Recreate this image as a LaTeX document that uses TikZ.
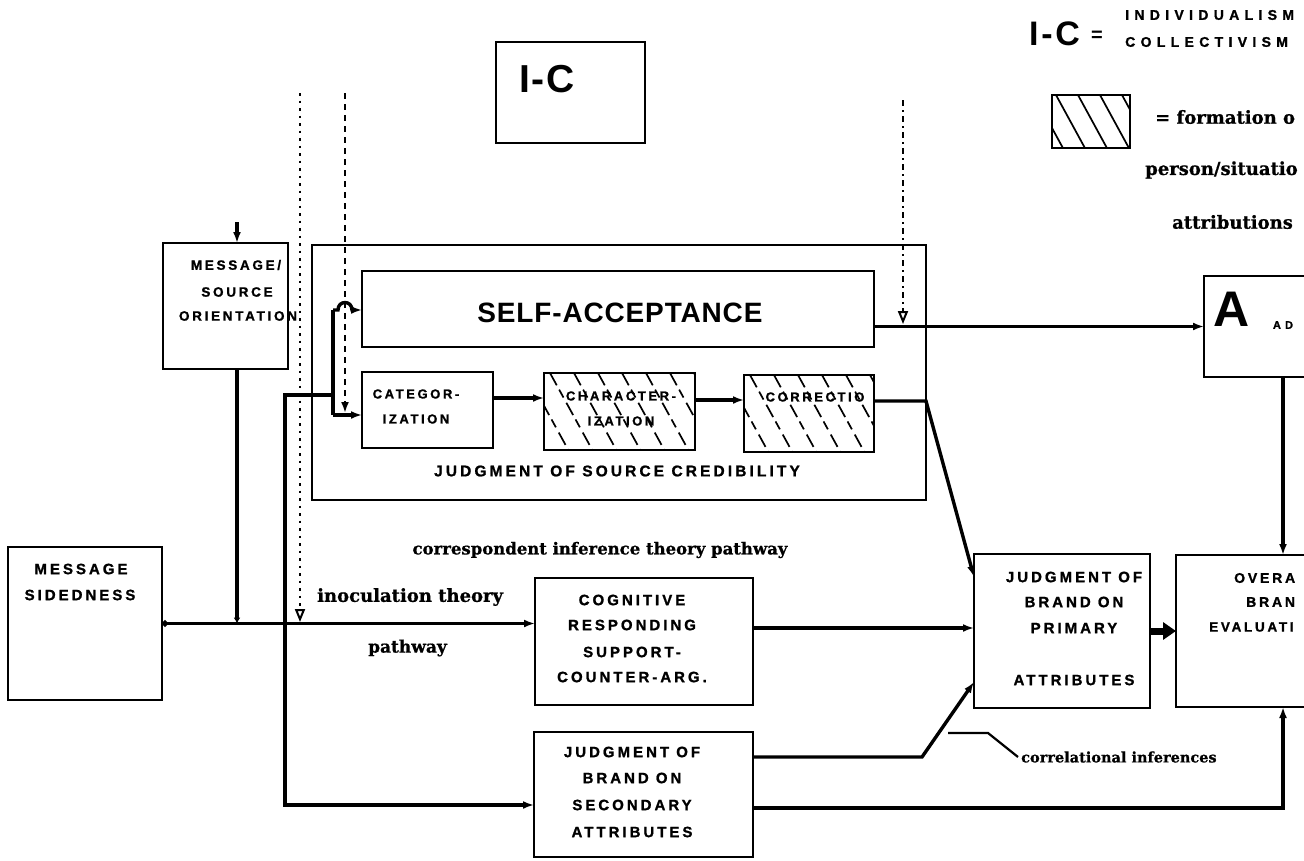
\documentclass[tikz,border=0pt]{standalone}
\usepackage{fontspec}
\usetikzlibrary{arrows.meta}
\newfontfamily\capsfont[LetterSpace=20,FakeBold=1.2]{Liberation Sans Bold}
\newfontfamily\widecaps[LetterSpace=38,FakeBold=1.2]{Liberation Sans Bold}
\newfontfamily\bigfont[LetterSpace=4]{Liberation Sans Bold}
\newfontfamily\legfont[LetterSpace=8]{Liberation Sans Bold}
\newfontfamily\safont[LetterSpace=3]{Liberation Sans Bold}
\newfontfamily\serifb[FakeBold=0.8]{DejaVu Serif Bold}
\tikzset{
 box/.style={draw, line width=2.4pt, inner sep=0pt, outer sep=0pt},
 conn/.style={line width=3.4pt},
 arr/.style={conn, -{Latex[length=11pt,width=8pt]}},
 smallarr/.style={conn, -{Latex[length=6pt,width=7pt]}},
 fat/.style={line width=7pt, -{Triangle[length=13pt,width=17pt]}},
 dotline/.style={line width=2pt, dash pattern=on 2.5pt off 5pt},
 dashline/.style={line width=2pt, dash pattern=on 6pt off 5pt},
 dashdotline/.style={line width=2pt, dash pattern=on 6pt off 4pt on 2pt off 4pt},
 openarr/.style={-{Triangle[open,length=13pt,width=10pt,line width=2pt]}},
 filledarr/.style={-{Latex[length=11pt,width=8pt]}},
 caps/.style={inner sep=0pt, font=\capsfont\fontsize{#1}{#1}\selectfont},
 caps/.default=15,
 wcaps/.style={inner sep=0pt, font=\widecaps\fontsize{#1}{#1}\selectfont},
 wcaps/.default=14,
 serif/.style={inner sep=0pt, font=\serifb\fontsize{#1}{#1}\selectfont},
 serif/.default=18,
 hatch/.style={line width=1.7pt, dash pattern=on 14pt off 5pt on 9pt off 6pt},
}
\begin{document}
\begin{tikzpicture}[x=1pt,y=-1pt]
\useasboundingbox (0,0) rectangle (1304,860);
\clip (0,0) rectangle (1304,860);

% hatching of the correspondence-inference boxes and legend
\begin{scope}
 \clip (544,373) rectangle (695,450);
 \foreach \k in {-66,-42,...,160} \draw[hatch] (544+\k,373) -- ++(44,80);
\end{scope}
\begin{scope}
 \clip (744,375) rectangle (874,452);
 \foreach \k in {-66,-42,...,140} \draw[hatch] (744+\k,375) -- ++(44,80);
\end{scope}
\begin{scope}
 \clip (1052,95) rectangle (1130,148);
 \foreach \k in {-40,-18,...,80} \draw[line width=1.7pt] (1052+\k,95) -- ++(30,55);
\end{scope}

% boxes
\node[box, minimum width=149pt, minimum height=101pt] (ic) at (570.5,92.5) {};
\node[box, minimum width=125pt, minimum height=126pt] (mso) at (225.5,306) {};
\node[box, minimum width=154pt, minimum height=153pt] (ms) at (85,623.5) {};
\node[box, minimum width=614pt, minimum height=255pt] (jsc) at (619,372.5) {};
\node[box, minimum width=512pt, minimum height=76pt] (sa) at (618,309) {};
\node[box, minimum width=131pt, minimum height=76pt] (cat) at (427.5,410) {};
\node[box, minimum width=151pt, minimum height=77pt] (char) at (619.5,411.5) {};
\node[box, minimum width=130pt, minimum height=77pt] (corr) at (809,413.5) {};
\node[box, minimum width=218pt, minimum height=127pt] (cog) at (644,641.5) {};
\node[box, minimum width=219pt, minimum height=125pt] (sec) at (643.5,794.5) {};
\node[box, minimum width=176pt, minimum height=154pt] (prim) at (1062,631) {};
\node[box, minimum width=214pt, minimum height=152pt] (ovr) at (1283,631) {};
\node[box, minimum width=158pt, minimum height=101pt] (aad) at (1283,326.5) {};
\node[box, minimum width=78pt, minimum height=53pt] (leg) at (1091,121.5) {};

% texts
\node[inner sep=0pt, font=\bigfont\fontsize{39}{39}\selectfont] (ict) at (547,79) {I-C};
\node[inner sep=0pt, anchor=west, font=\legfont\fontsize{34}{34}\selectfont] (legic) at (1029,34) {I-C};
\node[inner sep=0pt, anchor=west, font=\bigfont\fontsize{20}{20}\selectfont] (legeq) at (1091,36) {=};
\node[wcaps, anchor=west] (legi) at (1125,15) {INDIVIDUALISM};
\node[wcaps, anchor=west] (legc) at (1125,42) {COLLECTIVISM};
\node[serif, anchor=west] (legf) at (1155,117) {= formation o};
\node[serif, anchor=west] (legp) at (1145,170) {person/situatio};
\node[serif, anchor=west] (lega) at (1172,222) {attributions};

\node[caps=13.5] (mso1) at (236,265) {MESSAGE/};
\node[caps=13.5] (mso2) at (237,292) {SOURCE};
\node[caps=13.5] (mso3) at (238,316) {ORIENTATION};
\node[caps] (ms1) at (81,569) {MESSAGE};
\node[caps] (ms2) at (80,595) {SIDEDNESS};

\node[inner sep=0pt, font=\safont\fontsize{28}{28}\selectfont] (sat) at (620,313) {SELF-ACCEPTANCE};
\node[caps=13] (cat1) at (416,394) {CATEGOR-};
\node[caps=13] (cat2) at (416,419) {IZATION};
\node[caps=13] (char1) at (621,396) {CHARACTER-};
\node[caps=13] (char2) at (621,421) {IZATION};
\node[caps=13] (corr1) at (815,397) {CORRECTIO};
\node[caps=15.5] (jsct) at (617,471) {JUDGMENT OF SOURCE CREDIBILITY};

\node[caps] (cog1) at (632,600) {COGNITIVE};
\node[caps] (cog2) at (632,625) {RESPONDING};
\node[caps] (cog3) at (632,652) {SUPPORT-};
\node[caps] (cog4) at (632,677) {COUNTER-ARG.};
\node[caps] (sec1) at (632,752) {JUDGMENT OF};
\node[caps] (sec2) at (632,778) {BRAND ON};
\node[caps] (sec3) at (632,805) {SECONDARY};
\node[caps] (sec4) at (632,832) {ATTRIBUTES};
\node[caps] (prim1) at (1074,577) {JUDGMENT OF};
\node[caps] (prim2) at (1074,602) {BRAND ON};
\node[caps] (prim3) at (1074,628) {PRIMARY};
\node[caps] (prim4) at (1074,680) {ATTRIBUTES};
\node[caps=14, anchor=west] (ovr1) at (1234,578) {OVERA};
\node[caps=14, anchor=west] (ovr2) at (1246,602) {BRAN};
\node[caps=13.5, anchor=west] (ovr3) at (1209,627) {EVALUATI};
\node[inner sep=0pt, font=\bigfont\fontsize{50}{50}\selectfont] (aada) at (1232,309) {A};
\node[wcaps=11] (aadd) at (1283,325) {AD};

\node[serif=16.5] (lcor) at (600,550) {correspondent inference theory pathway};
\node[serif, anchor=west] (linoc) at (317,597) {inoculation theory};
\node[serif=17, anchor=west] (lpath) at (368,648) {pathway};
\node[serif=14.5, anchor=west] (lcorrel) at (1021,757) {correlational inferences};

% named points
\coordinate (msoin) at (237,222);
\coordinate (j1) at (285,623.5);
\coordinate (b1) at (285,395);
\coordinate (b2) at (333,395);
\coordinate (bt) at (333,310);
\coordinate (bb) at (333,415);
\coordinate (b3) at (285,805);
\coordinate (r1) at (493,398);
\coordinate (r2) at (695,400);
\coordinate (c1) at (874,401);
\coordinate (c2) at (926,401);
\coordinate (p1) at (974,577);
\coordinate (saout) at (874,326.5);
\coordinate (g1) at (753,628);
\coordinate (s1) at (753,757);
\coordinate (s2) at (922,757);
\coordinate (p2) at (974,682);
\coordinate (s3) at (753,808);
\coordinate (l0) at (300,93);
\coordinate (l1) at (300,622);
\coordinate (d0) at (345,93);
\coordinate (d1) at (345,413);
\coordinate (e0) at (903,100);
\coordinate (e1) at (903,324);
\coordinate (q0) at (948,733);
\coordinate (q1) at (988,733);

% connectors
\draw[arr] (msoin) -- (msoin |- mso.north);
\draw[smallarr] (msoin |- mso.south) -- (msoin |- ms.east);
\draw[arr, {Circle[length=6pt]}-{Latex[length=11pt,width=8pt]}] (ms.east) -- (ms.east -| cog.west);
\draw[conn] (j1) -- (b1) -- (b2);
\draw[conn] (bt) -- (bb);
\draw[arr] (bt) -- (338,310) .. controls (338,300) and (352,300) .. (352,310) -- (bt -| sa.west);
\draw[arr] (bb) -- (bb -| cat.west);
\draw[arr] (j1) -- (b3) -- (b3 -| sec.west);
\draw[arr] (r1) -- (r1 -| char.west);
\draw[arr] (r2) -- (r2 -| corr.west);
\draw[arr] (c1) -- (c2) -- (p1);
\draw[arr] (saout) -- (saout -| aad.west);
\draw[arr] (g1) -- (g1 -| prim.west);
\draw[arr] (s1) -- (s2) -- (p2);
\draw[arr] (s3) -| (ovr.south);
\draw[arr] (aad.south) -- (ovr.north);
\draw[fat] (prim.east) -- (ovr.west);
\draw[dotline, openarr] (l0) -- (l1);
\draw[dashline, filledarr] (d0) -- (d1);
\draw[dashdotline, openarr] (e0) -- (e1);
\draw[line width=2.2pt] (q0) -- (q1) -- ([xshift=-3pt]lcorrel.west);
\end{tikzpicture}
\end{document}
